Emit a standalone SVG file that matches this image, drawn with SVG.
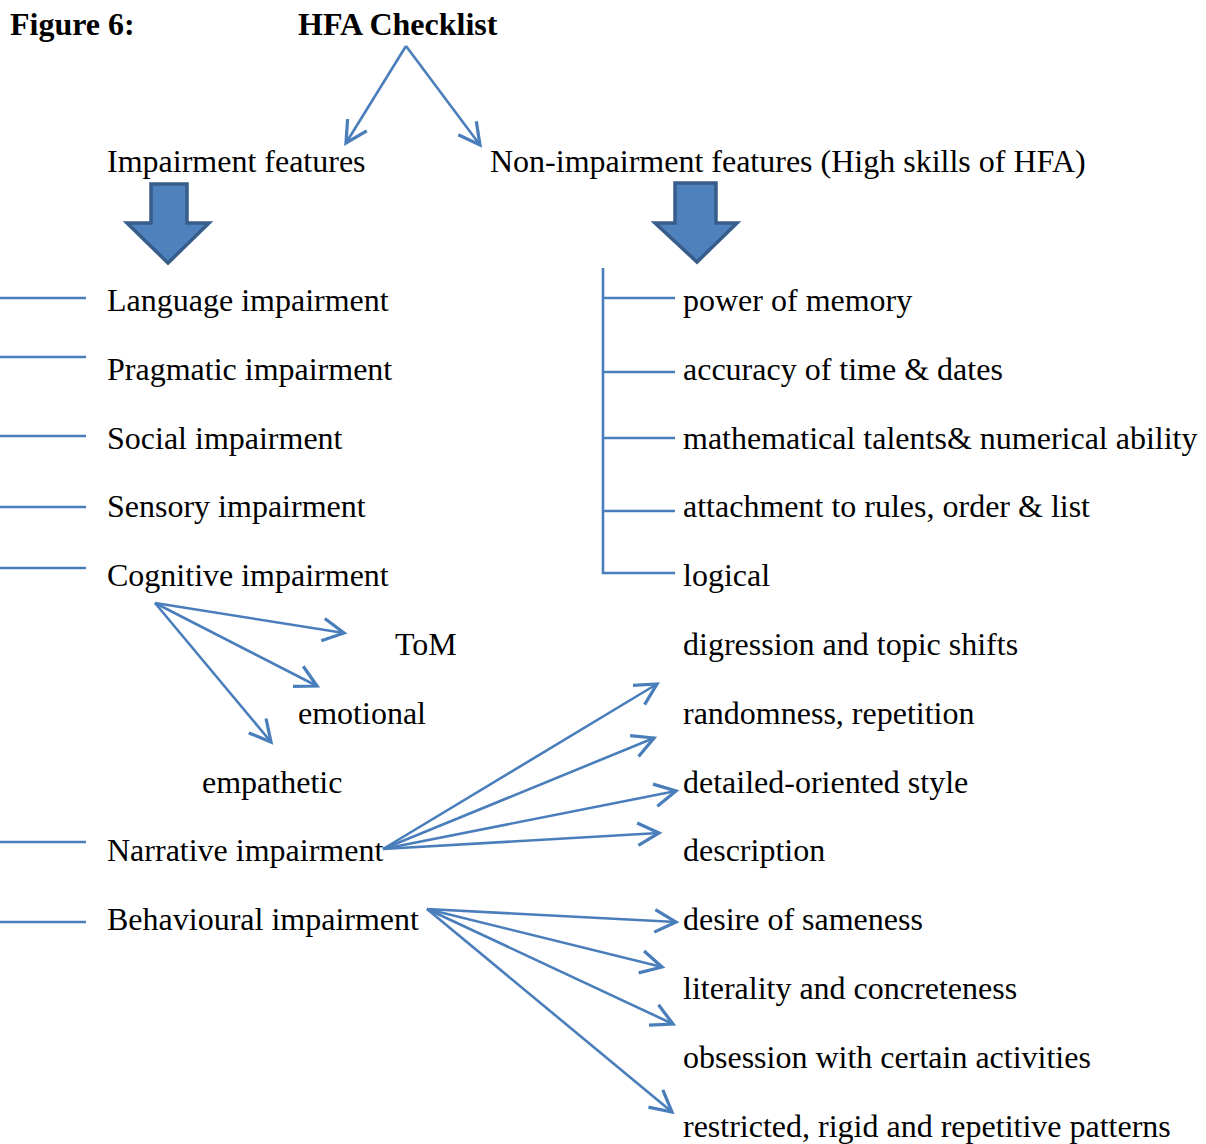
<svg xmlns="http://www.w3.org/2000/svg" width="1206" height="1144" viewBox="0 0 1206 1144">
<defs>
<marker id="ah" markerUnits="userSpaceOnUse" markerWidth="30" markerHeight="30" refX="0" refY="0" viewBox="-20 -12 24 24" orient="auto" overflow="visible">
<path d="M-17,-9 L0,0 L-17,9" fill="none" stroke="#4a7ebb" stroke-width="2.6"/>
</marker>
</defs>
<style>
text{font-family:"Liberation Serif","Times New Roman",serif;font-size:32px;fill:#000}
.b{font-weight:bold}
.c{stroke:#4a7ebb;stroke-width:2.6;fill:none}
.a{marker-end:url(#ah)}
.blk{fill:#4f81bd;stroke:#385d8a;stroke-width:3.5;stroke-linejoin:miter}
</style>
<rect width="1206" height="1144" fill="#fff"/>
<g id="title">
<text class="b" x="10" y="35">Figure 6:</text>
<text class="b" x="298" y="35">HFA Checklist</text>
</g>
<g id="connectors">
<line class="c a" x1="406" y1="46" x2="346" y2="143"/>
<line class="c a" x1="406" y1="46" x2="480" y2="145"/>
<polygon class="blk" points="151,184 187,184 187,223 209,223 168,263 127,223 151,223"/>
<polygon class="blk" points="675,183 716,183 716,223 737,223 697,262 655,223 675,223"/>
<line class="c" x1="0" y1="298" x2="86" y2="298"/>
<line class="c" x1="0" y1="357" x2="86" y2="357"/>
<line class="c" x1="0" y1="436" x2="86" y2="436"/>
<line class="c" x1="0" y1="507" x2="86" y2="507"/>
<line class="c" x1="0" y1="568" x2="86" y2="568"/>
<line class="c" x1="0" y1="842" x2="86" y2="842"/>
<line class="c" x1="0" y1="922" x2="86" y2="922"/>
<polyline class="c" points="603,268 603,573 675,573"/>
<line class="c" x1="603" y1="298" x2="675" y2="298"/>
<line class="c" x1="603" y1="372" x2="675" y2="372"/>
<line class="c" x1="603" y1="438" x2="675" y2="438"/>
<line class="c" x1="603" y1="511" x2="675" y2="511"/>
<line class="c a" x1="155" y1="603" x2="344" y2="633"/>
<line class="c a" x1="155" y1="603" x2="317" y2="686"/>
<line class="c a" x1="155" y1="603" x2="271" y2="742"/>
<line class="c a" x1="383" y1="849" x2="657" y2="684"/>
<line class="c a" x1="383" y1="849" x2="654" y2="738"/>
<line class="c a" x1="383" y1="849" x2="676" y2="791"/>
<line class="c a" x1="383" y1="849" x2="659" y2="833"/>
<line class="c a" x1="427" y1="909" x2="676" y2="922"/>
<line class="c a" x1="427" y1="909" x2="662" y2="967"/>
<line class="c a" x1="427" y1="909" x2="673" y2="1024"/>
<line class="c a" x1="427" y1="909" x2="672" y2="1112"/>
</g>
<g id="impairment-features"><text x="107" y="172">Impairment features</text></g>
<g id="non-impairment-features"><text x="490" y="172">Non-impairment features (High skills of HFA)</text></g>
<g id="language"><text x="107" y="311">Language impairment</text></g>
<g id="pragmatic"><text x="107" y="380">Pragmatic impairment</text></g>
<g id="social"><text x="107" y="449">Social impairment</text></g>
<g id="sensory"><text x="107" y="517">Sensory impairment</text></g>
<g id="cognitive"><text x="107" y="586">Cognitive impairment</text></g>
<g id="tom"><text x="395" y="655">ToM</text></g>
<g id="emotional"><text x="298" y="724">emotional</text></g>
<g id="empathetic"><text x="202" y="793">empathetic</text></g>
<g id="narrative"><text x="107" y="861">Narrative impairment</text></g>
<g id="behavioural"><text x="107" y="930">Behavioural impairment</text></g>
<g id="memory"><text x="683" y="311">power of memory</text></g>
<g id="time"><text x="683" y="380">accuracy of time &amp; dates</text></g>
<g id="math"><text x="683" y="449">mathematical talents&amp; numerical ability</text></g>
<g id="rules"><text x="683" y="517">attachment to rules, order &amp; list</text></g>
<g id="logical"><text x="683" y="586">logical</text></g>
<g id="digression"><text x="683" y="655">digression and topic shifts</text></g>
<g id="randomness"><text x="683" y="724">randomness, repetition</text></g>
<g id="detailed"><text x="683" y="793">detailed-oriented style</text></g>
<g id="description"><text x="683" y="861">description</text></g>
<g id="sameness"><text x="683" y="930">desire of sameness</text></g>
<g id="literality"><text x="683" y="999">literality and concreteness</text></g>
<g id="obsession"><text x="683" y="1068">obsession with certain activities</text></g>
<g id="restricted"><text x="683" y="1137">restricted, rigid and repetitive patterns</text></g>
</svg>
